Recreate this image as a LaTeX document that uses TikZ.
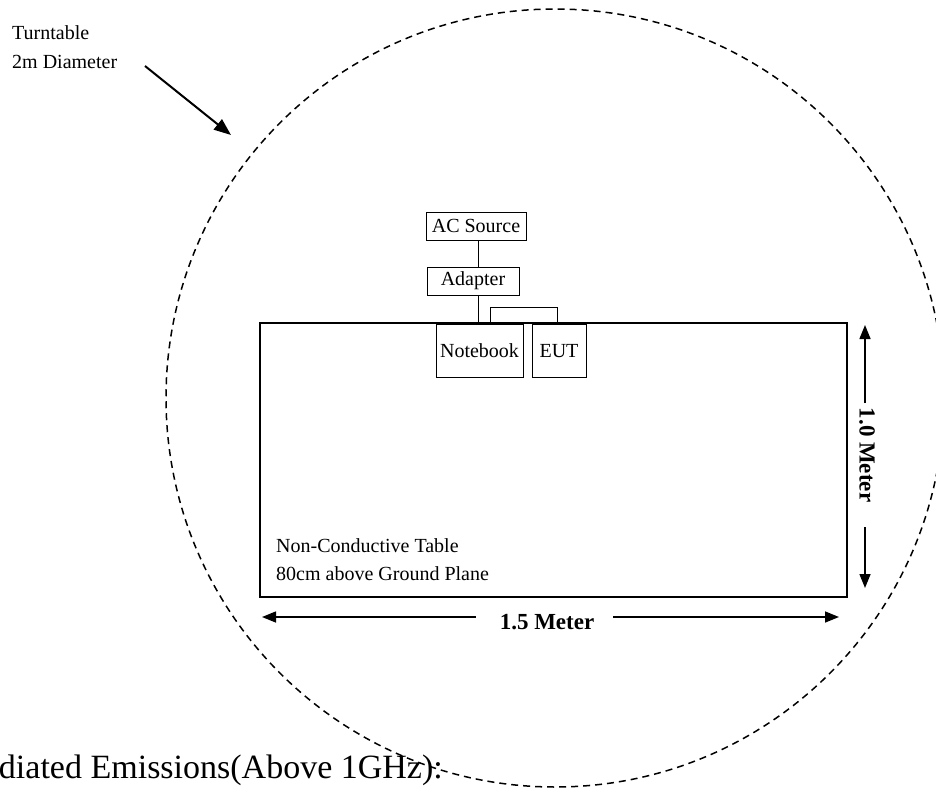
\documentclass[tikz,border=0pt]{standalone}
\usepackage{fontspec}
\setmainfont{Liberation Serif}
\usetikzlibrary{arrows.meta}
\begin{document}
\begin{tikzpicture}[x=1pt,y=-1pt,
  boxnode/.style={draw, line width=1pt, inner sep=0pt, font=\fontsize{20}{24}\selectfont},
  plain/.style={inner sep=0pt, font=\fontsize{20}{24}\selectfont},
  boldlbl/.style={inner sep=0pt, font=\fontsize{23}{27}\selectfont\bfseries},
  dimarrow/.style={line width=1.5pt, -{Triangle[length=14pt,width=11pt]}},
  wire/.style={line width=1pt}]
\useasboundingbox (0,0) rectangle (936,789);
\clip (0,0) rectangle (936,789);
% turntable
\draw[dashed, line width=1.5pt, dash pattern=on 7pt off 5pt] (555,398) circle (389);
% table
\node[draw, line width=2.5pt, minimum width=587pt, minimum height=274pt, inner sep=0pt] (table) at (553.5,460) {};
% labels
\node[plain, anchor=west] (tt1) at (12,33) {Turntable};
\node[plain, anchor=west] (tt2) at (12,62) {2m Diameter};
\coordinate (ttip) at (231,135);
\draw[line width=2pt, -{Triangle[length=17pt,width=13pt]}] (145,66) -- (ttip);
% equipment
\node[boxnode, minimum width=100pt, minimum height=28pt] (ac) at (476,226) {AC Source};
\node[boxnode, minimum width=92pt, minimum height=28pt] (adapter) at (473,281) {Adapter};
\node[boxnode, anchor=north, minimum width=87pt, minimum height=53pt] (nb) at (479.5,324) {Notebook};
\node[boxnode, anchor=north, minimum width=54pt, minimum height=53pt] (eut) at (559,324) {EUT};
\draw[wire] ([xshift=2pt]ac.south) -- ([xshift=2pt]ac.south |- adapter.north);
\draw[wire] ([xshift=5pt]adapter.south) -- ([xshift=5pt]adapter.south |- table.north);
\draw[wire] ([xshift=11pt]nb.north) -- ++(0,-17) -| ([xshift=-2pt]eut.north);
% table text
\node[plain, anchor=west] (t1) at (276,546) {Non-Conductive Table};
\node[plain, anchor=west] (t2) at (276,574) {80cm above Ground Plane};
% horizontal dimension
\node[boldlbl] (hl) at (547,622) {1.5 Meter};
\coordinate (hl1) at (262,617);
\coordinate (hr1) at (839,617);
\draw[dimarrow] (hl.west |- hl1) ++(-24,0) -- (hl1);
\draw[dimarrow] (hl.east |- hr1) ++(19,0) -- (hr1);
% vertical dimension
\node[boldlbl, rotate=-90] (vl) at (867,455) {1.0 Meter};
\coordinate (vt) at (865,325);
\coordinate (vb) at (865,588);
\draw[dimarrow] (865,403) -- (vt);
\draw[dimarrow] (865,527) -- (vb);
% caption (cut off at the left edge, as in the reference)
\node[inner sep=0pt, anchor=base east, font=\fontsize{34}{40}\selectfont] (cap) at (443,778) {Radiated Emissions(Above 1GHz):};
\end{tikzpicture}
\end{document}
